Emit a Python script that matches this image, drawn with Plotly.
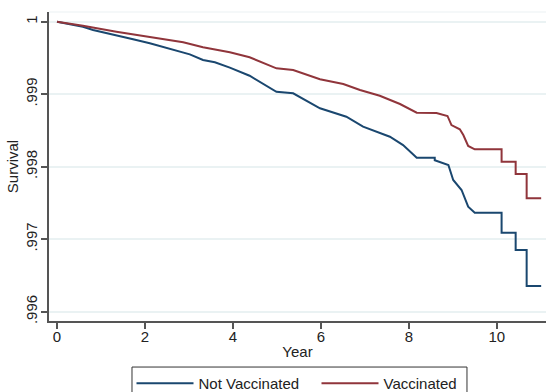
import plotly.graph_objects as go

# Kaplan-Meier survival estimates
years_not_vacc = [0, 0.59, 0.82, 1.35, 1.73, 2.11, 2.64, 3.02, 3.32, 3.59, 3.93, 4.38,
                  4.99, 5.37, 5.98, 6.58, 6.96, 7.34, 7.57, 7.87, 8.18, 8.59, 8.59,
                  8.90, 9.01, 9.20, 9.35, 9.50, 10.11, 10.11, 10.43, 10.43, 10.68,
                  10.68, 11.01]
surv_not_vacc = [1.0, .999931, .999886, .999817, .999757, .999702, .999619, .999550,
                 .999472, .999440, .999366, .999255, .999034, .999012, .998806,
                 .998690, .998552, .998469, .998414, .998299, .998124, .998124,
                 .998090, .998023, .997817, .997679, .997448, .997366, .997366,
                 .997090, .997090, .996851, .996851, .996354, .996354]

years_vacc = [0, 0.59, 1.35, 2.11, 2.87, 3.32, 3.70, 3.93, 4.38, 4.99, 5.37, 5.98,
              6.51, 6.89, 7.34, 7.80, 8.18, 8.63, 8.88, 8.97, 9.16, 9.24, 9.35,
              9.50, 10.11, 10.11, 10.43, 10.43, 10.68, 10.68, 11.01]
surv_vacc = [1.0, .999945, .999862, .999793, .999716, .999647, .999610, .999578,
             .999509, .999357, .999334, .999206, .999141, .999058, .998979,
             .998865, .998745, .998740, .998700, .998575, .998516, .998437,
             .998286, .998240, .998240, .998069, .998069, .997899, .997899,
             .997564, .997564]

x_ticks = [0, 2, 4, 6, 8, 10]
y_ticks = [0.996, 0.997, 0.998, 0.999, 1.0]
y_tick_labels = [".996", ".997", ".998", ".999", "1"]

BLUE = "#1a476f"
RED = "#90353b"
GRID = "#eaf2f3"
AXIS = "#555555"

fig = go.Figure()
fig.add_trace(go.Scatter(x=years_not_vacc, y=surv_not_vacc, mode="lines",
                         name="Not Vaccinated", line=dict(color=BLUE, width=2)))
fig.add_trace(go.Scatter(x=years_vacc, y=surv_vacc, mode="lines",
                         name="Vaccinated", line=dict(color=RED, width=2)))

# faint plot-region top edge
fig.add_shape(type="line", xref="paper", yref="paper", x0=0, x1=1, y0=1, y1=1,
              line=dict(color="#f2f6f7", width=1.5), layer="below")
# legend frame
fig.add_shape(type="rect", xref="paper", yref="paper",
              x0=0.167, x1=0.841, y0=-0.149, y1=-0.30,
              line=dict(color="#333333", width=1), fillcolor="rgba(0,0,0,0)")

fig.update_layout(
    width=546, height=392,
    margin=dict(l=49, r=0, t=12, b=71, autoexpand=False),
    paper_bgcolor="white", plot_bgcolor="white",
    font=dict(family="Liberation Sans, Arial, sans-serif", size=15, color="#222222"),
    showlegend=True,
    legend=dict(orientation="h", x=0.166, xanchor="left", y=-0.149, yanchor="top",
                borderwidth=0, bgcolor="rgba(0,0,0,0)",
                itemwidth=57, entrywidth=113, font=dict(size=15)),
    xaxis=dict(range=[-0.182, 11.12], tickvals=x_ticks, showgrid=False, zeroline=False,
               showline=True, linecolor=AXIS, linewidth=1.5, ticks="outside",
               ticklen=6, tickwidth=1.5, tickcolor=AXIS, ticklabelstandoff=-5,
               title=dict(text="Year", standoff=3, font=dict(size=15))),
    yaxis=dict(range=[0.995872, 1.000134], tickvals=y_ticks, ticktext=y_tick_labels,
               tickangle=-90, showgrid=True, gridcolor=GRID, gridwidth=1.5,
               zeroline=False, showline=True, linecolor=AXIS, linewidth=1.5,
               ticks="outside", ticklen=6, tickwidth=1.5, tickcolor=AXIS,
               ticklabelstandoff=-2,
               title=dict(text="Survival", standoff=1, font=dict(size=15))),
)

fig.write_html("out.html", config={"displayModeBar": False},
               post_script="document.body.style.margin='0';document.body.style.overflow='hidden';")
